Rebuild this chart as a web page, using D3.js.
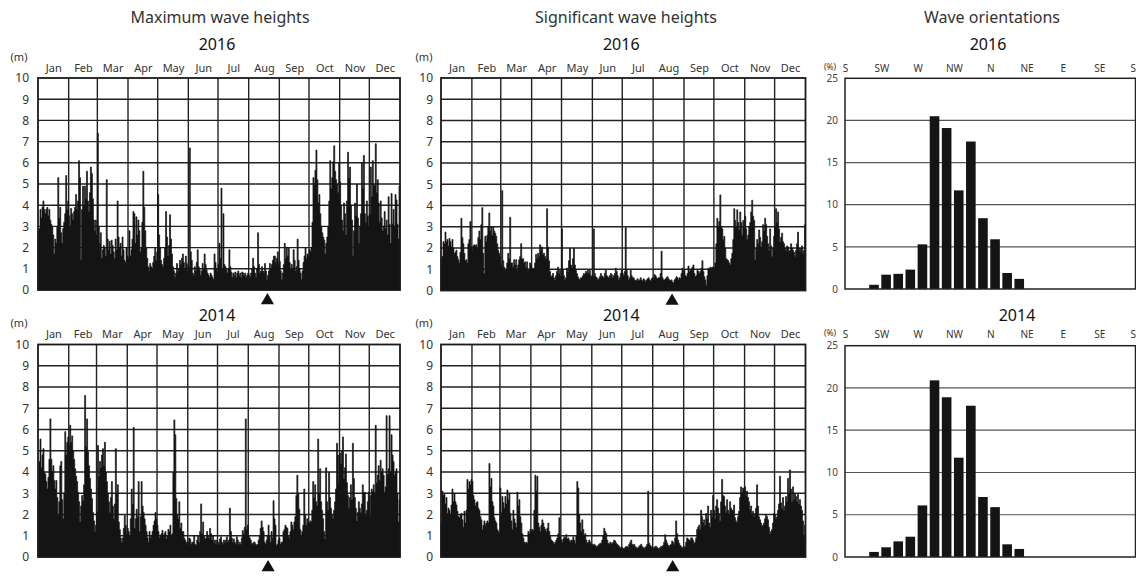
<!DOCTYPE html>
<html>
<head>
<meta charset="UTF-8">
<script src="https://cdn.jsdelivr.net/npm/d3@7"></script>
<title>Wave heights</title>
<style>
    body { margin: 0; background: #fff; }
    svg text { font-family: "Noto Sans", sans-serif; fill: #222; }
</style>
</head>
<body>
<svg id="chart" width="1136" height="576"></svg>
<script>
// ---- data (daily values, m) ----
const months = ["Jan","Feb","Mar","Apr","May","Jun","Jul","Aug","Sep","Oct","Nov","Dec"];
const directions = ["S","SW","W","NW","N","NE","E","SE","S"];
const dirAngles = [0,45,90,135,180,225,270,315,360];
const binStarts = [30,45,60,75,90,105,120,135,150,165,180,195,210];
const orient2016 = [0.5,1.7,1.8,2.3,5.3,20.5,19.1,11.7,17.5,8.4,5.9,1.9,1.2];
const orient2014 = [0.6,1.15,1.85,2.4,6.1,20.9,18.9,11.75,17.9,7.1,5.9,1.5,0.95];
const markDay = 232; // day of year of the ▲ marker

const maxH2016 = [
 2.7,2.9,3.8,3.4,3.9,4.2,3.8,3.6,3.8,3.9,3.5,3.8,3.3,3.1,3.0,2.6,1.7,2.4,2.2,3.0,5.3,3.4,3.9,2.7,2.2,2.9,3.2,3.6,5.4,3.8,4.2,
 3.5,3.0,3.85,3.6,3.3,3.7,3.9,4.5,3.8,4.2,6.1,5.3,1.4,3.8,4.9,4.0,4.9,4.3,5.6,4.2,3.7,4.6,5.8,5.5,4.3,3.3,2.8,3.3,2.6,
 7.4,3.0,2.2,2.7,1.5,1.9,2.1,2.0,1.6,5.2,2.4,1.9,2.3,1.7,2.35,2.1,1.8,1.5,2.4,1.9,4.2,2.5,2.0,2.2,1.6,2.5,1.9,1.4,1.3,2.0,1.6,
 1.5,2.8,1.6,1.9,2.4,3.7,3.6,2.2,3.45,2.6,3.3,2.8,1.8,2.0,3.2,5.6,3.9,2.8,2.0,1.5,1.1,0.9,1.25,1.1,1.0,1.3,1.6,2.0,1.4,1.8,
 4.5,2.6,2.0,1.4,1.2,1.1,1.5,2.0,3.7,2.5,1.6,2.1,3.55,2.4,1.7,1.1,0.9,0.6,0.8,1.25,0.9,1.0,1.4,1.2,1.5,1.7,1.3,1.0,1.6,1.25,0.9,
 1.1,6.7,1.8,1.4,0.8,0.7,1.1,0.9,1.3,1.9,1.1,0.95,0.7,0.9,1.25,1.0,1.7,1.2,0.95,0.8,0.7,0.6,0.8,0.7,0.6,0.5,1.7,1.3,1.0,0.8,
 1.2,2.2,1.5,4.8,1.0,3.6,1.2,1.1,0.95,0.8,1.0,1.9,1.1,0.85,0.6,0.8,0.7,0.85,0.6,0.8,0.9,0.7,0.8,0.6,0.85,0.8,0.7,0.8,0.6,0.7,0.8,
 0.7,0.6,0.8,1.0,1.5,1.1,0.8,0.6,1.0,2.7,1.2,0.8,0.9,1.1,0.9,0.8,1.25,0.9,0.5,0.7,0.9,1.25,1.0,1.2,1.4,1.6,1.6,1.3,1.5,1.8,1.2,
 1.35,0.9,0.5,0.8,1.2,2.2,1.5,2.0,1.6,2.0,1.3,0.95,1.2,1.0,1.9,1.4,0.9,1.1,2.4,1.4,1.0,0.8,0.5,0.9,1.3,1.6,2.0,1.5,1.7,1.6,
 1.9,1.8,2.0,3.2,5.3,5.0,5.65,6.6,5.2,4.1,4.5,3.6,3.0,2.7,2.5,2.35,1.7,2.2,2.5,3.0,4.2,6.1,4.8,5.3,6.05,6.8,5.6,5.2,5.0,4.6,6.0,
 5.1,4.0,3.3,2.8,4.1,3.6,2.6,4.2,6.5,5.3,5.8,4.0,3.3,1.6,2.8,4.1,3.5,5.0,3.4,2.2,3.0,3.6,6.0,4.8,6.35,3.6,3.2,4.2,3.5,3.0,
 3.6,5.8,4.4,6.1,5.0,4.9,6.9,4.6,5.2,4.1,3.2,4.2,3.4,2.8,3.0,3.7,2.9,3.3,2.6,4.4,3.1,2.2,4.55,3.1,3.8,3.0,4.5,4.25,3.1,2.4,4.9
];
const sigH2016 = [
 1.5,1.6,2.3,2.2,2.75,2.3,2.4,2.1,2.45,2.3,2.05,2.4,2.0,1.75,1.8,1.9,1.6,1.45,1.3,1.8,3.4,2.5,2.2,1.75,1.4,1.45,1.3,2.2,2.4,3.25,2.05,
 1.9,2.1,2.15,2.1,2.15,2.0,2.5,2.8,2.4,3.1,3.9,1.75,0.8,2.55,2.3,2.6,3.0,3.65,2.8,3.0,2.6,3.0,2.8,2.7,2.55,2.2,1.9,1.75,1.6,
 1.2,4.7,1.4,1.1,0.95,1.0,1.3,1.75,1.5,3.45,1.3,1.3,1.1,1.45,1.2,1.45,0.95,1.2,1.45,1.6,2.2,1.5,1.5,1.3,1.35,1.1,1.35,0.95,1.0,1.3,1.2,
 1.05,1.0,1.05,1.3,1.7,1.5,1.75,1.6,2.15,1.9,2.05,1.7,1.75,1.6,1.5,3.85,2.05,1.4,0.9,0.65,0.7,0.8,0.6,0.5,0.7,0.9,1.1,0.8,0.95,0.7,
 2.9,0.95,0.7,0.5,0.6,1.05,0.9,1.4,2.0,1.2,1.1,1.5,2.0,1.2,0.95,0.8,0.65,0.55,0.5,0.6,0.6,0.7,0.8,0.75,0.9,0.85,0.95,0.8,0.95,0.7,0.65,
 0.7,2.9,0.8,0.65,0.6,0.5,0.55,0.65,0.8,0.7,0.65,0.6,0.8,0.95,0.7,0.65,0.6,0.7,0.8,0.75,0.6,0.7,0.8,1.05,0.9,0.7,0.5,0.6,0.8,0.95,
 0.8,0.7,0.9,2.95,0.95,0.7,0.5,0.6,0.95,0.7,0.6,0.6,0.5,0.45,0.5,0.55,0.45,0.5,0.6,0.5,0.45,0.55,0.5,0.4,0.5,0.55,0.6,0.5,0.45,0.55,0.6,
 0.6,0.75,0.7,0.6,0.55,0.6,0.6,0.8,1.85,0.6,0.5,0.5,0.55,0.6,0.65,0.55,0.5,0.45,0.5,0.4,0.35,0.5,0.55,0.65,0.6,0.5,0.6,0.55,0.8,1.05,0.9,
 0.95,0.7,0.65,0.8,1.15,0.9,0.95,1.0,1.1,1.2,0.8,0.65,0.7,0.95,0.9,0.8,0.9,1.05,1.4,0.9,0.65,0.5,0.25,0.7,1.05,1.0,1.1,1.05,1.1,1.1,
 1.1,1.3,2.2,3.4,3.0,3.25,4.5,3.0,2.9,2.4,2.55,2.0,1.5,1.45,1.4,1.3,1.2,1.5,1.75,2.4,3.85,3.3,3.0,3.8,3.2,2.85,3.7,3.2,2.6,3.3,3.0,
 3.5,2.9,2.4,2.6,3.0,3.2,3.7,4.25,3.5,3.3,1.45,2.0,2.4,2.2,2.85,2.5,2.05,2.3,3.1,2.8,3.4,3.1,2.55,2.2,1.9,2.9,2.1,1.6,2.0,2.55,
 3.0,3.85,3.2,3.7,2.9,2.3,2.5,2.7,2.3,2.2,2.0,1.9,2.1,2.05,1.85,1.9,2.2,2.0,1.9,1.8,1.6,1.9,2.2,2.75,2.0,1.85,2.0,2.1,1.75,1.9,3.1
];
const maxH2014 = [
 2.75,4.5,5.55,4.2,4.8,5.1,4.0,3.9,3.55,3.2,3.75,4.6,6.5,4.6,4.0,4.3,3.6,3.2,3.6,2.8,1.95,2.6,4.3,4.5,2.7,1.8,3.0,5.9,4.8,5.4,5.65,
 5.3,6.2,5.4,5.7,5.0,4.6,4.15,3.8,3.55,3.05,2.6,1.65,2.4,2.9,2.65,3.4,7.6,5.2,6.5,4.95,4.3,3.7,3.2,2.75,2.1,1.7,1.2,1.5,
 2.1,5.25,3.8,4.5,4.2,4.8,5.1,4.3,5.4,4.0,3.55,3.0,2.6,2.1,2.8,3.55,2.4,1.8,2.5,5.1,3.0,3.4,1.65,1.3,0.9,0.7,0.9,1.35,1.95,1.5,1.1,
 1.35,1.2,1.0,1.8,3.2,2.5,6.1,1.35,1.8,2.25,1.9,3.55,1.2,1.9,3.55,2.4,2.1,1.8,1.5,1.2,0.9,0.7,1.2,0.9,1.0,1.2,1.5,1.7,2.1,1.8,
 1.5,1.2,0.9,1.0,1.1,1.25,1.0,1.1,1.2,0.85,1.0,1.3,1.2,1.5,1.0,1.1,4.0,6.45,5.75,2.75,2.0,1.8,2.6,1.35,1.6,1.2,1.2,0.9,0.8,0.7,0.6,
 0.7,0.9,0.85,0.6,0.7,0.7,1.0,0.6,0.55,0.8,1.0,0.7,1.2,2.5,1.1,1.65,1.0,0.85,0.9,1.2,1.0,0.9,1.35,1.1,0.8,1.0,0.7,0.8,0.6,0.8,
 0.7,0.6,0.85,0.95,0.7,0.6,0.8,0.7,0.8,0.95,0.7,0.8,2.3,1.2,0.9,0.7,0.85,0.7,0.6,0.95,0.8,0.6,0.7,0.6,0.9,1.25,1.1,1.4,6.5,1.3,1.5,
 1.0,0.9,0.8,0.65,0.6,0.7,0.7,0.6,0.55,0.6,0.8,1.0,1.35,1.7,1.4,1.2,0.7,0.6,0.8,1.0,1.5,1.0,0.7,1.2,0.9,2.65,1.8,1.5,0.55,0.6,0.8,
 0.9,0.6,0.7,0.7,1.2,1.3,1.5,1.4,1.35,1.0,0.9,1.2,1.65,1.5,1.3,1.65,1.9,2.9,3.85,3.0,2.25,1.3,0.95,1.2,1.5,3.2,2.0,1.5,1.8,1.6,
 1.6,1.7,1.65,2.2,3.55,2.8,3.4,2.6,2.4,5.55,3.0,4.15,2.6,2.2,1.8,1.2,0.85,4.2,2.6,2.2,4.0,2.8,2.3,2.0,1.8,2.2,2.6,3.2,5.35,4.8,3.5,
 4.9,4.4,5.0,5.65,3.7,4.2,4.85,3.5,2.9,2.3,2.8,3.4,2.7,5.35,3.7,2.8,2.3,1.7,2.1,2.6,2.3,2.1,2.5,3.4,3.0,3.05,1.95,2.2,2.6,3.05,
 1.9,2.9,3.2,3.1,3.4,3.0,6.2,3.5,3.85,4.3,3.6,4.55,4.0,4.15,3.85,3.05,3.3,6.65,3.9,4.15,6.65,4.0,5.75,4.8,4.5,3.85,4.0,4.15,3.0,1.65,2.7
];
const sigH2014 = [
 1.6,3.1,2.9,2.95,2.5,2.8,2.05,2.3,2.2,2.0,2.45,3.2,2.6,3.0,2.6,2.45,2.15,1.9,1.85,2.0,2.05,1.75,1.4,2.15,1.6,2.2,3.65,3.2,3.55,3.4,3.65,
 3.55,2.9,2.7,2.4,2.55,2.6,2.3,2.2,1.9,1.75,1.3,1.5,1.7,1.5,1.6,1.7,1.6,4.4,3.3,3.7,2.6,2.4,1.85,1.7,1.6,1.3,1.2,1.1,
 3.25,2.1,2.85,2.55,2.3,2.85,2.5,3.15,2.7,3.0,2.05,1.7,1.3,2.2,1.8,1.6,1.4,3.05,2.4,2.7,1.9,1.6,1.1,0.9,0.7,0.65,0.7,0.65,1.2,1.1,1.3,
 1.2,1.3,1.25,2.2,3.85,3.1,3.8,1.6,1.4,1.2,1.5,1.75,1.6,1.4,1.3,1.2,1.35,1.6,1.2,0.95,0.8,0.75,0.7,0.6,0.7,0.8,0.9,1.1,1.85,0.95,
 0.8,0.7,0.85,0.95,0.9,1.05,0.85,0.9,0.8,0.7,0.8,0.75,0.95,0.8,0.65,1.0,3.55,3.25,2.0,1.6,1.2,1.75,1.3,1.0,1.1,0.8,0.65,0.7,0.8,0.7,0.6,
 0.6,0.55,0.6,0.55,0.5,0.5,0.55,0.6,0.65,0.65,0.8,1.0,1.35,1.2,1.1,0.8,0.65,0.6,0.7,0.65,0.65,0.7,0.8,0.75,0.65,0.6,0.55,0.5,0.45,0.4,
 0.45,0.4,0.4,0.45,0.5,0.5,0.45,0.6,0.7,0.8,0.6,0.55,0.6,0.5,0.45,0.4,0.45,0.5,0.55,0.6,0.5,0.45,0.4,0.45,0.5,0.6,3.1,0.65,0.55,0.5,0.45,
 0.4,0.45,0.5,0.5,0.45,0.4,0.4,0.45,0.5,0.5,0.55,0.7,1.05,0.8,0.65,0.55,0.5,0.55,0.6,0.75,0.7,0.6,0.9,1.7,1.1,0.8,0.65,0.55,0.5,0.45,0.4,
 0.45,0.5,0.7,0.9,0.85,0.8,0.75,0.9,0.9,0.8,0.65,0.7,0.9,1.3,1.4,1.5,1.3,2.2,1.9,1.6,1.75,1.5,2.05,1.8,2.4,1.6,1.4,2.2,1.9,2.9,
 2.2,1.8,2.4,2.7,2.3,2.05,1.7,2.6,3.65,2.9,2.85,2.4,2.1,2.7,2.2,2.0,2.6,2.3,2.2,2.2,2.45,1.85,1.7,1.6,1.9,2.15,2.8,3.3,3.0,3.25,3.15,
 3.3,2.9,3.1,2.8,2.6,2.2,2.4,2.05,2.15,1.9,2.05,2.3,3.4,2.4,1.9,1.75,1.6,1.45,1.5,1.6,1.8,2.0,1.9,1.75,1.4,1.1,1.2,1.3,1.6,2.05,
 2.0,1.8,1.9,2.2,2.5,3.8,2.55,2.3,2.8,2.2,2.4,2.85,2.6,3.7,3.0,4.1,3.2,2.6,3.3,2.7,3.0,2.85,2.6,2.95,2.5,2.7,2.4,2.2,1.7,0.95,1.5
];

const svg = d3.select("#chart");

// column titles
const titles = [["Maximum wave heights", 220], ["Significant wave heights", 626], ["Wave orientations", 992]];
svg.selectAll(".title").data(titles).join("text")
    .attr("x", d => d[1]).attr("y", 23)
    .attr("text-anchor", "middle").attr("font-size", 16).style("fill", "#333")
    .text(d => d[0]);

const drawWave = (values, year, x0, x1, y0, y1, labelRight, yearY, monthY, unitX, unitY) => {
    const x = d3.scaleTime().domain([new Date(year, 0, 1), new Date(year + 1, 0, 1)]).range([x0, x1]);
    const y = d3.scaleLinear().domain([0, 10]).range([y1, y0]);
    const g = svg.append("g");
    const monthStarts = d3.timeMonth.range(new Date(year, 0, 1), new Date(year + 1, 0, 1));

    g.selectAll(".hg").data(d3.range(1, 10)).join("line")
        .attr("x1", x0).attr("x2", x1).attr("y1", d => y(d)).attr("y2", d => y(d))
        .attr("stroke", "#222").attr("stroke-width", 1.4);
    g.selectAll(".vg").data(monthStarts.slice(1)).join("line")
        .attr("x1", d => x(d)).attr("x2", d => x(d)).attr("y1", y0).attr("y2", y1)
        .attr("stroke", "#222").attr("stroke-width", 1.4);

    const pts = values.map((v, i) => [new Date(year, 0, 1 + i), v]);
    pts.push([new Date(year + 1, 0, 1), values[values.length - 1]]);
    const area = d3.area().x(d => x(d[0])).y0(y(0)).y1(d => y(d[1])).curve(d3.curveStepAfter);
    g.append("path").datum(pts).attr("d", area)
        .attr("fill", "#141414").attr("stroke", "#141414").attr("stroke-width", 0.7);

    g.append("rect").attr("x", x0).attr("y", y0).attr("width", x1 - x0).attr("height", y1 - y0)
        .attr("fill", "none").attr("stroke", "#1a1a1a").attr("stroke-width", 1.8);

    // y axis labels
    const ya = g.append("g").attr("transform", `translate(${x0},0)`)
        .call(d3.axisLeft(y).ticks(10).tickSize(0).tickPadding(x0 - labelRight));
    ya.select(".domain").remove();
    ya.selectAll("text").attr("font-size", 12).style("fill", "#333");

    // month labels, centred in each month
    const mids = monthStarts.map(d => new Date((+d + +d3.timeMonth.offset(d, 1)) / 2));
    const xa = g.append("g").attr("transform", `translate(0,${monthY})`)
        .call(d3.axisTop(x).tickValues(mids).tickFormat((d, i) => months[i]).tickSize(0).tickPadding(0));
    xa.select(".domain").remove();
    xa.selectAll("text").attr("font-size", 11).style("fill", "#333");

    g.append("text").attr("x", (x0 + x1) / 2 - 2).attr("y", yearY).attr("text-anchor", "middle")
        .attr("font-size", 16).style("fill", "#111").text(year);
    g.append("text").attr("x", unitX).attr("y", unitY).attr("text-anchor", "middle")
        .attr("font-size", 11).style("fill", "#333").text("(m)");

    const mk = x(d3.timeDay.offset(new Date(year, 0, 1), markDay));
    g.append("path").attr("d", d3.symbol(d3.symbolTriangle).size(75))
        .attr("transform", `translate(${mk},${y1 + 10.5})`).attr("fill", "#111");
};

const drawOrient = (values, year, x0, x1, y0, y1, yearX, yearY, labelY) => {
    const x = d3.scaleLinear().domain([0, 360]).range([x0, x1]);
    const y = d3.scaleLinear().domain([0, 25]).range([y1, y0]);
    const g = svg.append("g");

    g.selectAll(".hg").data([5, 10, 15, 20]).join("line")
        .attr("x1", x0).attr("x2", x1).attr("y1", d => y(d)).attr("y2", d => y(d))
        .attr("stroke", "#555").attr("stroke-width", 1.2);

    g.selectAll(".bar").data(values).join("rect")
        .attr("x", (d, i) => x(binStarts[i]))
        .attr("width", (d, i) => x(binStarts[i] + 15) - x(binStarts[i]) - 2.5)
        .attr("y", d => y(d)).attr("height", d => y(0) - y(d))
        .attr("fill", "#141414");

    g.append("rect").attr("x", x0).attr("y", y0).attr("width", x1 - x0).attr("height", y1 - y0)
        .attr("fill", "none").attr("stroke", "#222").attr("stroke-width", 1.5);

    const ya = g.append("g").attr("transform", `translate(${x0},0)`)
        .call(d3.axisLeft(y).tickValues([0, 5, 10, 15, 20, 25]).tickSize(0).tickPadding(7));
    ya.select(".domain").remove();
    ya.selectAll("text").attr("font-size", 10).style("fill", "#444");

    const xa = g.append("g").attr("transform", `translate(0,${labelY})`)
        .call(d3.axisTop(x).tickValues(dirAngles).tickFormat((d, i) => directions[i]).tickSize(0).tickPadding(0));
    xa.select(".domain").remove();
    xa.selectAll("text").attr("font-size", 10).style("fill", "#333");
    // the last "S" sits on the right edge: keep it inside the picture
    xa.selectAll("text").filter(d => d === 360).attr("text-anchor", "end");

    g.append("text").attr("x", x0 - 15).attr("y", labelY - 2).attr("text-anchor", "middle")
        .attr("font-size", 8.5).style("fill", "#333").text("(%)");
    g.append("text").attr("x", yearX).attr("y", yearY).attr("text-anchor", "middle")
        .attr("font-size", 16).style("fill", "#111").text(year);
};

drawWave(maxH2016, 2016, 38, 400, 78, 290, 29, 50, 71.5, 19, 61);
drawWave(sigH2016, 2016, 441, 805.5, 78, 290.5, 433, 50, 71.5, 424, 61);
drawWave(maxH2014, 2014, 38, 400, 344.5, 557, 29, 320.5, 337.5, 19, 327);
drawWave(sigH2014, 2014, 441, 805.5, 344.5, 557, 433, 320.5, 337.5, 424, 327);
drawOrient(orient2016, 2016, 845, 1135.5, 78.3, 289, 988, 50, 71.5);
drawOrient(orient2014, 2014, 845, 1135.5, 345.7, 557, 1017, 320.5, 337.5);
</script>
</body>
</html>
